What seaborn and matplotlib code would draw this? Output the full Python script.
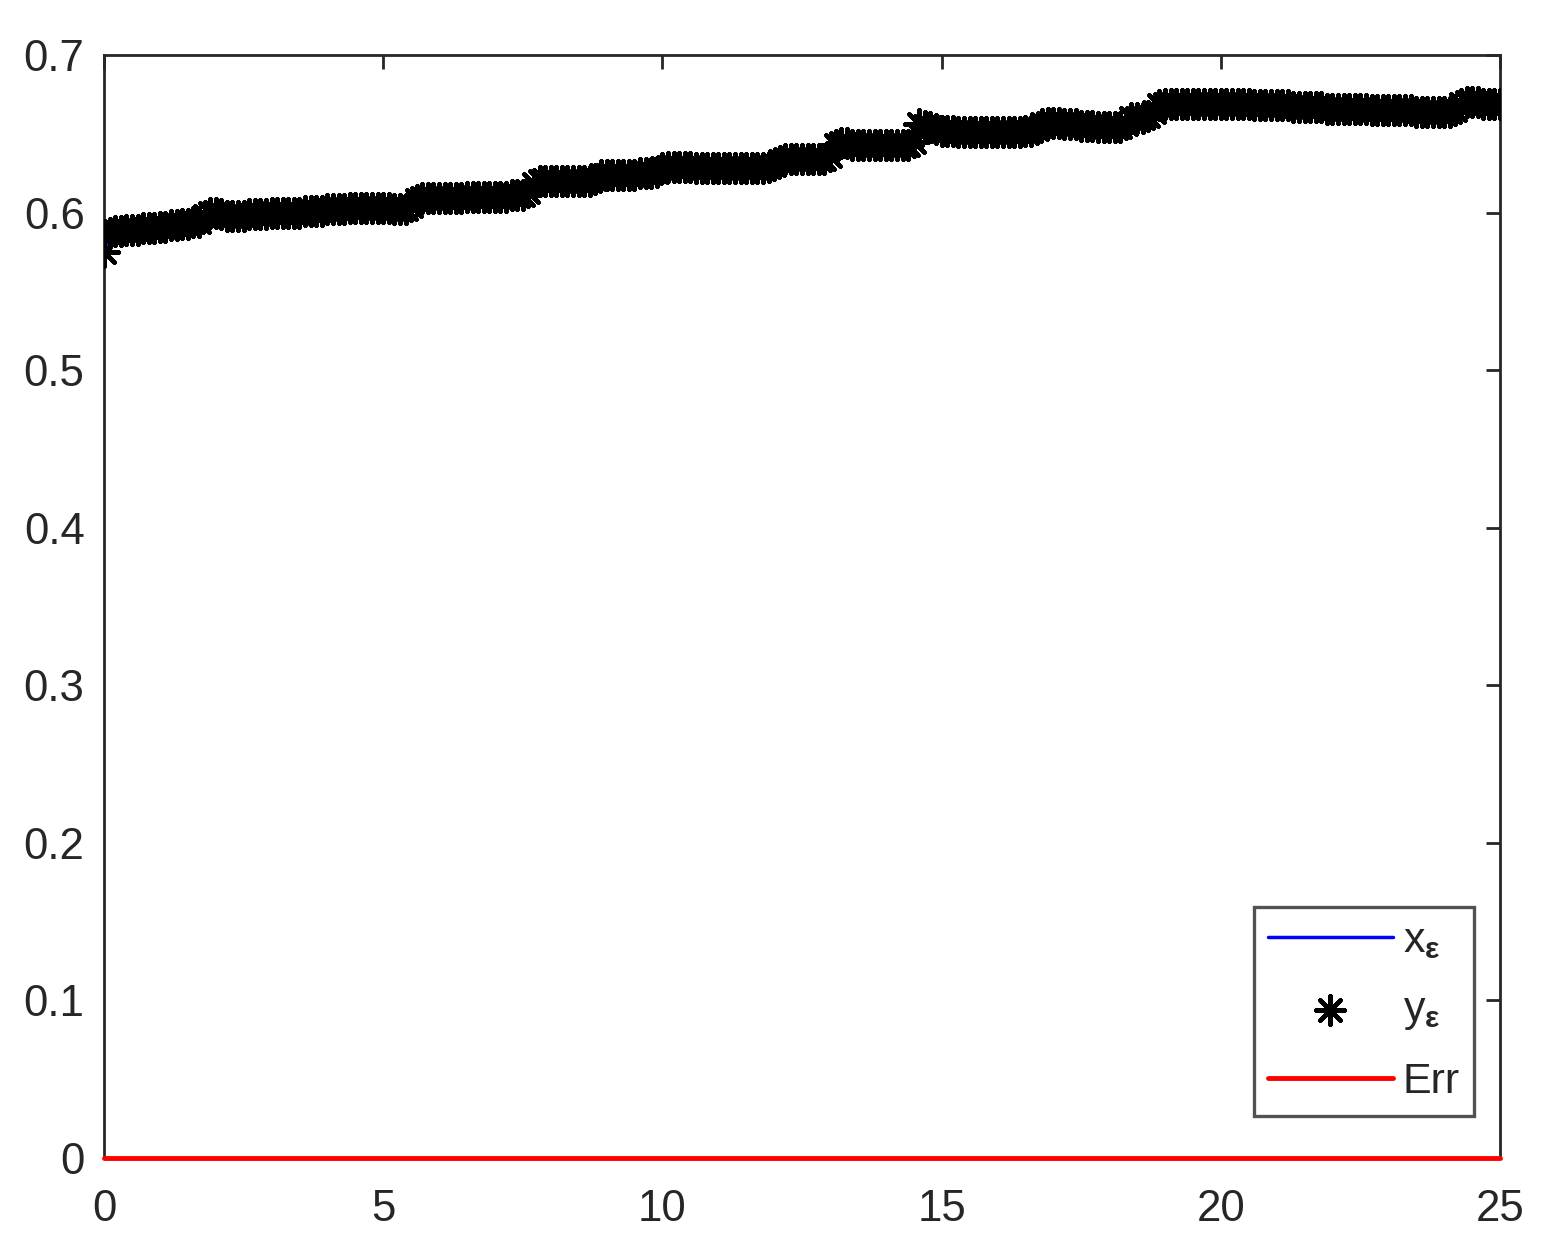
import matplotlib
matplotlib.use("Agg")
import numpy as np
import pandas as pd
import matplotlib.pyplot as plt
import seaborn as sns

# x grid: one reading every 0.1 from 0 to 25
t = np.round(np.arange(0, 25.05, 0.1), 1)

# y_eps, one row per unit of t
y_eps = [
    0.575, 0.587, 0.588, 0.588, 0.589, 0.589, 0.589, 0.590, 0.590, 0.590,
    0.591, 0.591, 0.592, 0.592, 0.593, 0.593, 0.594, 0.594, 0.598, 0.600,
    0.600, 0.599, 0.598, 0.598, 0.598, 0.598, 0.599, 0.599, 0.599, 0.599,
    0.600, 0.600, 0.600, 0.600, 0.600, 0.600, 0.601, 0.601, 0.601, 0.601,
    0.602, 0.602, 0.602, 0.602, 0.603, 0.603, 0.603, 0.603, 0.603, 0.603,
    0.603, 0.603, 0.602, 0.602, 0.602, 0.604, 0.608, 0.609, 0.609, 0.609,
    0.609, 0.609, 0.609, 0.609, 0.609, 0.610, 0.610, 0.610, 0.610, 0.610,
    0.610, 0.610, 0.610, 0.611, 0.611, 0.611, 0.613, 0.618, 0.620, 0.620,
    0.620, 0.620, 0.620, 0.620, 0.620, 0.620, 0.620, 0.620, 0.621, 0.624,
    0.624, 0.624, 0.624, 0.624, 0.624, 0.624, 0.625, 0.625, 0.625, 0.626,
    0.628, 0.629, 0.629, 0.629, 0.629, 0.629, 0.628, 0.628, 0.628, 0.628,
    0.628, 0.628, 0.628, 0.628, 0.628, 0.628, 0.628, 0.628, 0.628, 0.629,
    0.630, 0.633, 0.634, 0.634, 0.634, 0.634, 0.634, 0.634, 0.634, 0.634,
    0.636, 0.643, 0.644, 0.644, 0.643, 0.643, 0.643, 0.643, 0.643, 0.643,
    0.643, 0.643, 0.643, 0.643, 0.643, 0.645, 0.656, 0.655, 0.654, 0.653,
    0.652, 0.652, 0.652, 0.651, 0.651, 0.651, 0.651, 0.651, 0.651, 0.651,
    0.651, 0.651, 0.651, 0.651, 0.651, 0.652, 0.652, 0.653, 0.656, 0.657,
    0.657, 0.657, 0.656, 0.656, 0.656, 0.655, 0.655, 0.655, 0.654, 0.654,
    0.654, 0.654, 0.654, 0.656, 0.660, 0.660, 0.660, 0.661, 0.664, 0.668,
    0.669, 0.669, 0.669, 0.669, 0.669, 0.669, 0.669, 0.669, 0.669, 0.669,
    0.669, 0.669, 0.669, 0.669, 0.669, 0.669, 0.668, 0.668, 0.668, 0.668,
    0.668, 0.668, 0.668, 0.667, 0.667, 0.667, 0.667, 0.667, 0.667, 0.666,
    0.666, 0.666, 0.666, 0.666, 0.666, 0.666, 0.666, 0.665, 0.665, 0.665,
    0.665, 0.665, 0.665, 0.665, 0.665, 0.664, 0.664, 0.664, 0.664, 0.664,
    0.664, 0.664, 0.665, 0.669, 0.670, 0.670, 0.670, 0.669, 0.669, 0.669,
    0.669,
]
# x_eps sits right under the stars, Err is zero all along
x_eps = list(y_eps)
err = [0.0] * len(t)

df = pd.DataFrame({"t": t, "x_eps": x_eps, "y_eps": y_eps, "err": err})

x_ticks = [0, 5, 10, 15, 20, 25]
y_ticks = [0, 0.1, 0.2, 0.3, 0.4, 0.5, 0.6, 0.7]

sns.set_style("white")
plt.rcParams["font.family"] = ["Liberation Sans", "DejaVu Sans"]
plt.rcParams["mathtext.fontset"] = "custom"
plt.rcParams["mathtext.rm"] = "Liberation Sans"
plt.rcParams["mathtext.bf"] = "Liberation Sans:bold"

fig = plt.figure(figsize=(15.41, 12.55), dpi=100)
ax = fig.add_axes([0.0675, 0.0773, 0.9059, 0.8789])

sns.lineplot(data=df, x="t", y="x_eps", color="blue", linewidth=2.5,
             label=r"x$_{\mathbf{ε}}$", ax=ax)
sns.scatterplot(data=df, x="t", y="y_eps", marker=(8, 2, 0), s=420,
                color="black", linewidth=3.2, label=r"y$_{\mathbf{ε}}$",
                ax=ax, zorder=3)
sns.lineplot(data=df, x="t", y="err", color="red", linewidth=3.5,
             label="Err", ax=ax, zorder=4, clip_on=False)

ax.set_xlim(0, 25)
ax.set_ylim(0, 0.7)
ax.set_xticks(x_ticks)
ax.set_yticks(y_ticks)
ax.set_xticklabels([str(v) for v in x_ticks])
ax.set_yticklabels(["0"] + [f"{v:.1f}" for v in y_ticks[1:]])
ax.set_xlabel("")
ax.set_ylabel("")

dark = "#262626"
for s in ax.spines.values():
    s.set_color(dark)
    s.set_linewidth(2)
ax.tick_params(direction="in", length=10, width=2, colors=dark,
               labelsize=31.5, top=True, right=True)
ax.tick_params(axis="x", pad=22)
ax.tick_params(axis="y", pad=14)

leg = ax.legend(loc="lower right", bbox_to_anchor=(0.9814, 0.0381),
                borderaxespad=0, fontsize=31, handlelength=2.9,
                handletextpad=0.23, labelspacing=0.68, borderpad=0.33,
                frameon=True, fancybox=False, edgecolor=dark,
                markerscale=1.0)
leg.get_frame().set_linewidth(2.4)

fig.savefig("out.png", dpi=100, facecolor="white")
